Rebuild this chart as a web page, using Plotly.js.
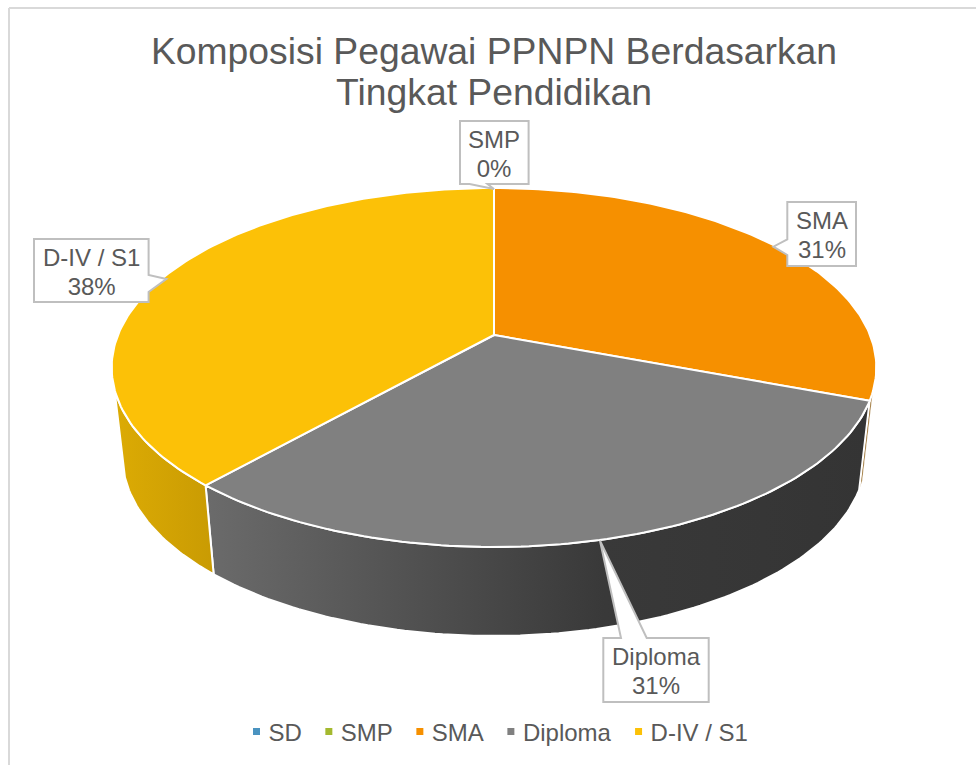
<!DOCTYPE html>
<html>
<head>
<meta charset="utf-8">
<script src="https://cdn.plot.ly/plotly-3.0.1.min.js"></script>
<style>html,body{margin:0;padding:0;background:#fff}#chart{width:976px;height:765px}</style>
</head>
<body>
<div id="chart"></div>
<script>
// Data
const categories = ["SD", "SMP", "SMA", "Diploma", "D-IV / S1"];
const values = [0, 0, 4, 4, 5];
const percentLabels = ["0%", "0%", "31%", "31%", "38%"];
const titleText = "Komposisi Pegawai PPNPN Berdasarkan<br>Tingkat Pendidikan";

// Colours
const topColors = ["#4a93c0", "#a4b92f", "#f69000", "#808080", "#fcc107"];
const wallGradients = {
  2: [[0, "#8a5a10"], [1, "#8a5a10"]],
  3: [[0, "#6b6b6b"], [0.6, "#393939"], [1, "#343434"]],
  4: [[0, "#dcab04"], [1, "#c99b03"]]
};
const textColor = "#595959";
const calloutColor = "#bfbfbf";

// Projection of the tilted disc (perspective view of a circle)
const W = 976, H = 765;
const hubX = 494, hubY = 335, scaleX = 376, scaleY = 173.6, persp = 0.181;
const floorHubY = 424, floorScaleX = 0.972, floorScaleY = 1.0;
const silhouetteFrom = 108, silhouetteTo = 253;

function project(deg, floor) {
  const a = deg * Math.PI / 180, u = Math.sin(a), v = Math.cos(a), w = 1 + persp * v;
  const px = scaleX * u / w, py = -scaleY * v / w;
  return floor
    ? [hubX + px * floorScaleX, floorHubY + py * floorScaleY]
    : [hubX + px, hubY + py];
}
function arc(from, to, floor) {
  const out = [], n = Math.max(1, Math.ceil(Math.abs(to - from)));
  for (let i = 0; i <= n; i++) out.push(project(from + (to - from) * i / n, floor));
  return out;
}

const total = values.reduce((s, v) => s + v, 0);
const walls = [], tops = [], legendItems = [];
let cursor = 0;
categories.forEach((name, i) => {
  const from = cursor, to = cursor + values[i] / total * 360;
  cursor = to;
  legendItems.push({
    x: [null], y: [null], name, type: "scatter", mode: "markers", hoverinfo: "skip",
    marker: { symbol: "square", size: 7, color: topColors[i] }
  });
  if (values[i] === 0) return;
  const wFrom = Math.max(from, silhouetteFrom), wTo = Math.min(to, silhouetteTo);
  if (wTo > wFrom) {
    const pts = arc(wFrom, wTo, false).concat(arc(wTo, wFrom, true));
    pts.push(pts[0]);
    walls.push({
      x: pts.map(p => p[0]), y: pts.map(p => p[1]), type: "scatter", mode: "lines",
      fill: "toself", fillgradient: { type: "horizontal", colorscale: wallGradients[i] },
      line: { color: "#ffffff", width: (wTo - wFrom) < 10 ? 0.5 : 2 },
      showlegend: false, hoverinfo: "skip"
    });
  }
  const face = [[hubX, hubY]].concat(arc(from, to, false));
  face.push([hubX, hubY]);
  tops.push({
    x: face.map(p => p[0]), y: face.map(p => p[1]), type: "scatter", mode: "lines",
    fill: "toself", fillcolor: topColors[i], line: { color: "#ffffff", width: 2 },
    showlegend: false, hoverinfo: "text", text: name + " " + percentLabels[i]
  });
});

// Callout boxes: box edges and wedge, in chart pixels
const callouts = [
  { cat: 1, l: 460, r: 528.6, t: 121, b: 184, wedge: [[487.5, 184], [494, 189], [469.6, 184]], side: "b" },
  { cat: 2, l: 787.3, r: 856, t: 202, b: 266, wedge: [[787.3, 239.3], [773.3, 246.7], [787.3, 255]], side: "l" },
  { cat: 3, l: 603.3, r: 708.7, t: 638, b: 702, wedge: [[621, 638], [600, 540.7], [646.7, 638]], side: "t" },
  { cat: 4, l: 34, r: 148.6, t: 239, b: 302, wedge: [[148.6, 275], [166.4, 279], [148.6, 292]], side: "r" }
];
function calloutPath(c) {
  const w = c.wedge, s = p => p[0] + "," + p[1];
  const wd = "L" + w.map(s).join("L");
  let d = "M" + c.l + "," + c.t;
  if (c.side === "t") d += wd;
  d += "L" + c.r + "," + c.t;
  if (c.side === "r") d += wd;
  d += "L" + c.r + "," + c.b;
  if (c.side === "b") d += wd;
  d += "L" + c.l + "," + c.b;
  if (c.side === "l") d += "L" + [w[2], w[1], w[0]].map(s).join("L");
  return d + "Z";
}
const shapes = [
  { type: "line", xref: "x", yref: "y", x0: 9, x1: 9, y0: 8, y1: H, line: { color: "#d9d9d9", width: 2 } },
  { type: "line", xref: "x", yref: "y", x0: 9, x1: W, y0: 8, y1: 8, line: { color: "#d9d9d9", width: 2 } }
].concat(callouts.map(c => ({
  type: "path", xref: "x", yref: "y", path: calloutPath(c),
  fillcolor: "#ffffff", line: { color: calloutColor, width: 2 }
})));
const annotations = callouts.map(c => ({
  x: (c.l + c.r) / 2, y: (c.t + c.b) / 2 + 2, xref: "x", yref: "y",
  text: categories[c.cat] + "<br>" + percentLabels[c.cat],
  showarrow: false, xanchor: "center", yanchor: "middle",
  font: { family: "Liberation Sans, Arial, sans-serif", size: 24, color: textColor }
}));

Plotly.newPlot("chart", walls.concat(tops, legendItems), {
  width: W, height: H,
  margin: { l: 0, r: 0, t: 0, b: 0 },
  paper_bgcolor: "#ffffff", plot_bgcolor: "#ffffff",
  title: {
    text: titleText, x: 494 / W, xanchor: "center", y: 1 - 64 / H, yanchor: "top",
    font: { family: "Liberation Sans, Arial, sans-serif", size: 37.3, color: textColor }
  },
  xaxis: { range: [0, W], visible: false, fixedrange: true },
  yaxis: { range: [H, 0], visible: false, fixedrange: true },
  showlegend: true,
  legend: {
    orientation: "h", x: 494 / W, xanchor: "center", y: 1 - 732 / H, yanchor: "middle",
    indentation: -6, itemclick: false, itemdoubleclick: false, bgcolor: "rgba(0,0,0,0)",
    font: { family: "Liberation Sans, Arial, sans-serif", size: 24, color: textColor }
  },
  shapes, annotations
}, { displayModeBar: false, responsive: false }).then(gd => {
  // Tighten multi-line text to the reference's line spacing; bring legend keys nearer their labels
  const spaceLines = (sel, em) => gd.querySelectorAll(sel).forEach(t =>
    t.querySelectorAll("tspan.line").forEach((l, i) => l.setAttribute("dy", (i * em) + "em")));
  spaceLines(".gtitle", 1.1);
  spaceLines(".annotation-text", 1.2);
  gd.querySelectorAll(".legend .legendsymbols").forEach(s => s.setAttribute("transform", "translate(8,0)"));
});
</script>
</body>
</html>
